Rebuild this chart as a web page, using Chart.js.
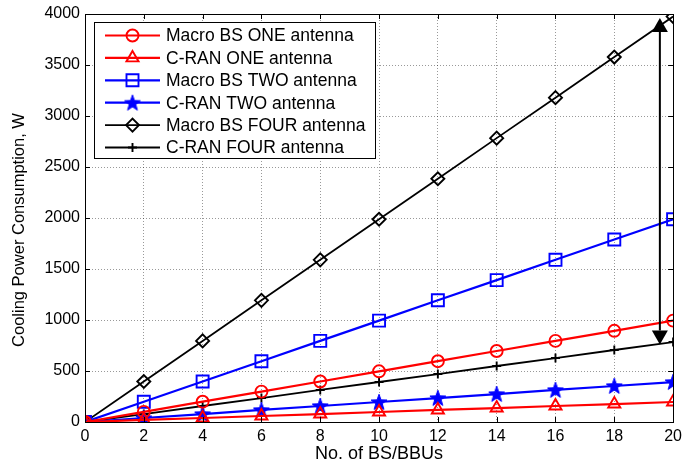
<!DOCTYPE html>
<html>
<head>
<meta charset="utf-8">
<script src="https://cdn.jsdelivr.net/npm/chart.js@4.4.1/dist/chart.umd.min.js"></script>
<style>
  html, body { margin: 0; padding: 0; background: #fff; }
  #wrap { width: 684px; height: 468px; position: relative; }
</style>
</head>
<body>
<div id="wrap"><canvas id="ch"></canvas></div>
<script>
/* ── data ── */
const xs         = [0, 2, 4, 6, 8, 10, 12, 14, 16, 18, 20];
const macroOne   = [0, 99, 199, 298, 397, 497, 596, 696, 795, 894, 994];
const cranOne    = [0, 20, 39, 59, 78, 98, 118, 137, 157, 176, 196];
const macroTwo   = [0, 199, 397, 596, 795, 994, 1193, 1391, 1590, 1789, 1988];
const cranTwo    = [0, 39, 78, 118, 157, 196, 235, 274, 314, 353, 392];
const macroFour  = [0, 397, 795, 1193, 1590, 1988, 2385, 2783, 3180, 3578, 3975];
const cranFour   = [0, 78, 157, 235, 314, 392, 470, 549, 627, 706, 784];
const seriesNames = ['Macro BS ONE antenna', 'C-RAN ONE antenna', 'Macro BS TWO antenna',
                     'C-RAN TWO antenna', 'Macro BS FOUR antenna', 'C-RAN FOUR antenna'];
const yTicks = [0, 500, 1000, 1500, 2000, 2500, 3000, 3500, 4000];
const xTicks = [0, 2, 4, 6, 8, 10, 12, 14, 16, 18, 20];
const yTitle = 'Cooling Power Consumption, W';
const xTitle = 'No. of BS/BBUs';
// double arrow between the two FOUR-antenna curves
const arrowX = [19.55];
const arrowY = [3960, 760];

const FONT = '"Liberation Sans", Arial, sans-serif';

/* ── filled pentagram marker ── */
function mkStar(color) {
  const c = document.createElement('canvas');
  c.width = 18; c.height = 18;
  const x = c.getContext('2d');
  x.beginPath();
  for (let i = 0; i < 10; i++) {
    const r = i % 2 ? 3.4 : 8.4;
    const a = -Math.PI / 2 + i * Math.PI / 5;
    const px = 9 + r * Math.cos(a), py = 9.6 + r * Math.sin(a);
    i ? x.lineTo(px, py) : x.moveTo(px, py);
  }
  x.closePath();
  x.fillStyle = color; x.fill();
  x.strokeStyle = color; x.lineWidth = 1; x.stroke();
  return c;
}
const starImg = mkStar('#0000ff');

function pts(arr) { return arr.map((v, i) => ({ x: xs[i], y: v })); }

function ds(label, data, color, style, radius, lw) {
  return {
    label, data: pts(data),
    borderColor: color, backgroundColor: 'transparent',
    borderWidth: lw, pointStyle: style, pointRadius: radius,
    pointBorderColor: color, pointBackgroundColor: style === starImg ? color : 'transparent',
    pointBorderWidth: 1.9, pointHoverRadius: radius, tension: 0
  };
}

const datasets = [
  ds(seriesNames[0], macroOne,  '#ff0000', 'circle',   6,   2.2),
  ds(seriesNames[1], cranOne,   '#ff0000', 'triangle', 7,   2.2),
  ds(seriesNames[2], macroTwo,  '#0000ff', 'rect',     8.5, 2.2),
  ds(seriesNames[3], cranTwo,   '#0000ff', starImg,    9,   2.2),
  ds(seriesNames[4], macroFour, '#000000', 'rectRot',  6.5, 1.8),
  ds(seriesNames[5], cranFour,  '#000000', 'cross',    4.5, 1.8)
];

/* ── MATLAB style box, inward ticks, y title, arrow, legend ── */
const extras = {
  id: 'extras',
  afterDatasetsDraw(chart) {
    const ctx = chart.ctx, a = chart.chartArea;
    const sx = chart.scales.x, sy = chart.scales.y;
    ctx.save();
    ctx.strokeStyle = '#000'; ctx.lineWidth = 1;
    ctx.beginPath();
    xTicks.forEach(v => {
      const p = Math.round(sx.getPixelForValue(v)) + 0.5;
      ctx.moveTo(p, a.bottom); ctx.lineTo(p, a.bottom - 5);
      ctx.moveTo(p, a.top); ctx.lineTo(p, a.top + 5);
    });
    yTicks.forEach(v => {
      const p = Math.round(sy.getPixelForValue(v)) + 0.5;
      ctx.moveTo(a.left, p); ctx.lineTo(a.left + 5, p);
      ctx.moveTo(a.right, p); ctx.lineTo(a.right - 5, p);
    });
    ctx.stroke();
    ctx.strokeRect(Math.round(a.left) + 0.5, Math.round(a.top) + 0.5,
                   Math.round(a.right - a.left), Math.round(a.bottom - a.top));

    // y title (sits a little below the axis centre in the original)
    ctx.save();
    ctx.translate(19, 230);
    ctx.rotate(-Math.PI / 2);
    ctx.font = '16.5px ' + FONT;
    ctx.fillStyle = '#000'; ctx.textAlign = 'center'; ctx.textBaseline = 'middle';
    ctx.fillText(yTitle, 0, 0);
    ctx.restore();

    // arrow
    const ax = sx.getPixelForValue(arrowX[0]);
    const yTop = sy.getPixelForValue(arrowY[0]), yBot = sy.getPixelForValue(arrowY[1]);
    const hl = 14, hw = 8;
    ctx.lineWidth = 2;
    ctx.beginPath(); ctx.moveTo(ax, yTop + hl); ctx.lineTo(ax, yBot - hl); ctx.stroke();
    ctx.fillStyle = '#000';
    ctx.beginPath(); ctx.moveTo(ax, yTop); ctx.lineTo(ax - hw, yTop + hl); ctx.lineTo(ax + hw, yTop + hl); ctx.closePath(); ctx.fill();
    ctx.beginPath(); ctx.moveTo(ax, yBot); ctx.lineTo(ax - hw, yBot - hl); ctx.lineTo(ax + hw, yBot - hl); ctx.closePath(); ctx.fill();

    // legend
    const bx = 94.5, by = 22.5, bw = 281, bh = 136;
    ctx.fillStyle = '#fff'; ctx.fillRect(bx, by, bw, bh);
    ctx.lineWidth = 1; ctx.strokeStyle = '#000'; ctx.strokeRect(bx, by, bw, bh);
    ctx.font = '17.5px ' + FONT;
    ctx.textBaseline = 'middle'; ctx.textAlign = 'left';
    chart.data.datasets.forEach((d, i) => {
      const y = by + 13 + i * 22.4;
      ctx.strokeStyle = d.borderColor; ctx.lineWidth = d.borderWidth;
      ctx.beginPath(); ctx.moveTo(105, y); ctx.lineTo(160, y); ctx.stroke();
      ctx.save();
      ctx.strokeStyle = d.pointBorderColor; ctx.fillStyle = d.pointBackgroundColor; ctx.lineWidth = d.pointBorderWidth;
      Chart.helpers.drawPoint(ctx, {
        pointStyle: d.pointStyle, radius: d.pointRadius, borderWidth: d.pointBorderWidth, rotation: 0
      }, 132.5, y);
      ctx.restore();
      ctx.fillStyle = '#000';
      ctx.fillText(d.label, 166, y + 1);
    });
    ctx.restore();
  }
};

new Chart(document.getElementById('ch').getContext('2d'), {
  type: 'line',
  data: { datasets },
  plugins: [extras],
  options: {
    responsive: true, maintainAspectRatio: false, animation: false,
    layout: { padding: { top: 14, right: 5, left: 0, bottom: 0 } },
    plugins: { legend: { display: false }, tooltip: { enabled: false } },
    scales: {
      x: {
        type: 'linear', min: 0, max: 20,
        afterBuildTicks: s => { s.ticks = xTicks.map(v => ({ value: v })); },
        afterFit: s => { s.height = 46; s.paddingLeft = 0; s.paddingRight = 0; },
        grid: { color: 'rgba(0,0,0,0.4)', drawTicks: false, tickLength: 0 },
        border: { display: true, color: '#000', width: 1, dash: [1, 2] },
        ticks: { color: '#000', font: { family: FONT, size: 16 }, padding: 5, maxRotation: 0, callback: v => String(v) },
        title: { display: true, text: xTitle, color: '#000', font: { family: FONT, size: 18 }, padding: { top: 0, bottom: 3 } }
      },
      y: {
        min: 0, max: 4000,
        afterBuildTicks: s => { s.ticks = yTicks.map(v => ({ value: v })); },
        afterFit: s => { s.width = 85; s.paddingTop = 0; s.paddingBottom = 0; },
        grid: { color: 'rgba(0,0,0,0.4)', drawTicks: false, tickLength: 0 },
        border: { display: true, color: '#000', width: 1, dash: [1, 2] },
        ticks: { color: '#000', font: { family: FONT, size: 16 }, padding: 5, callback: v => String(v) },
        title: { display: false }
      }
    }
  }
});
</script>
</body>
</html>
